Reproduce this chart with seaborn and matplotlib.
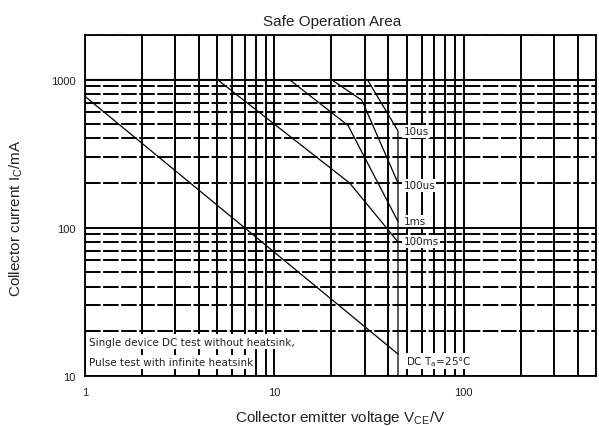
#!/usr/bin/env python3
"""
Safe Operation Area chart (log-log) recreated with seaborn
"""

import matplotlib
matplotlib.use('Agg')
import matplotlib.pyplot as plt
import numpy as np
import pandas as pd
import seaborn as sns
from matplotlib.ticker import FixedLocator, LogLocator, NullFormatter, FuncFormatter

# ── Data ──
dc_v = [1, 45]
dc_i = [770, 14]

ms100_v = [1, 5, 25, 45]
ms100_i = [1000, 1000, 200, 80]

ms1_v = [12, 24.5, 45]
ms1_i = [1000, 490, 110]

us100_v = [20, 29, 45]
us100_i = [1000, 725, 200]

us10_v = [31, 45, 45]
us10_i = [1000, 450, 10]

curve_names = ['DC', '100ms', '1ms', '100us', '10us']
curve_labels = ['DC T$_a$=25°C', '100ms', '1ms', '100us', '10us']
label_y = [12.6, 81, 111, 193, 447]

x_ticks = [1, 10, 100]
y_ticks = [10, 100, 1000]

note_lines = ['Single device DC test without heatsink,',
              'Pulse test with infinite heatsink']

# long-format table for seaborn
frames = []
for name, v, i in zip(curve_names,
                      [dc_v, ms100_v, ms1_v, us100_v, us10_v],
                      [dc_i, ms100_i, ms1_i, us100_i, us10_i]):
    frames.append(pd.DataFrame({'curve': name, 'V': v, 'I': i,
                                'order': range(len(v))}))
df = pd.concat(frames, ignore_index=True)

sns.set_style('white')
plt.rcParams['font.family'] = ['Liberation Sans', 'DejaVu Sans']
plt.rcParams['mathtext.default'] = 'regular'

fig = plt.figure(figsize=(5.99, 4.27), dpi=100)
ax = fig.add_axes([0.1419, 0.1178, 0.8531, 0.7979])

sns.lineplot(data=df, x='V', y='I', hue='curve', units='curve',
             estimator=None, sort=False, palette=['black'] * 5,
             linewidth=0.9, legend=False, ax=ax, zorder=3)

ax.set_xscale('log')
ax.set_yscale('log')
ax.set_xlim(1, 500)
ax.set_ylim(10, 2000)

# ticks / grid
ax.xaxis.set_major_locator(FixedLocator(x_ticks))
ax.yaxis.set_major_locator(FixedLocator(y_ticks))
ax.xaxis.set_minor_locator(LogLocator(base=10, subs=np.arange(2, 10)))
ax.yaxis.set_minor_locator(LogLocator(base=10, subs=np.arange(2, 10)))
ax.xaxis.set_minor_formatter(NullFormatter())
ax.yaxis.set_minor_formatter(NullFormatter())
fmt = FuncFormatter(lambda v, p: f'{v:g}')
ax.xaxis.set_major_formatter(fmt)
ax.yaxis.set_major_formatter(fmt)
ax.tick_params(axis='both', which='both', length=0, labelsize=8,
               colors='#222222')
ax.tick_params(axis='x', pad=8)
ax.tick_params(axis='y', pad=7)

ax.xaxis.grid(True, which='both', color='black', linewidth=1.4, linestyle='-')
ax.yaxis.grid(True, which='major', color='black', linewidth=1.4, linestyle='-')
ax.yaxis.grid(True, which='minor', color='black', linewidth=1.4,
              linestyle=(0, (8, 1.3)))
ax.set_axisbelow(True)

for s in ax.spines.values():
    s.set_color('black')
    s.set_linewidth(1.3)

# curve labels
for lab, y in zip(curve_labels, label_y):
    x = 49.5 if lab.startswith('DC') else 48
    ax.text(x, y, lab, fontsize=7.5, ha='left', va='center', color='#222222',
            family=['DejaVu Sans'], zorder=4,
            bbox=dict(facecolor='white', edgecolor='none', pad=1.0))

# test-condition note
for txt, y in zip(note_lines, [17, 12.4]):
    ax.text(1.05, y, txt, fontsize=7.5, ha='left', va='center',
            color='#222222', family=['DejaVu Sans'], zorder=4,
            bbox=dict(facecolor='white', edgecolor='none', pad=1.6))

ax.set_title('Safe Operation Area', fontsize=11, x=0.483, pad=7,
             color='#222222')
ax.set_xlabel('Collector emitter voltage V$_{CE}$/V', fontsize=11,
              color='#222222')
ax.set_ylabel('Collector current I$_C$/mA', fontsize=11, color='#222222')
ax.xaxis.set_label_coords(0.5, -0.095)
ax.yaxis.set_label_coords(-0.117, 0.466)

plt.savefig('out.png', dpi=100, facecolor='white')
